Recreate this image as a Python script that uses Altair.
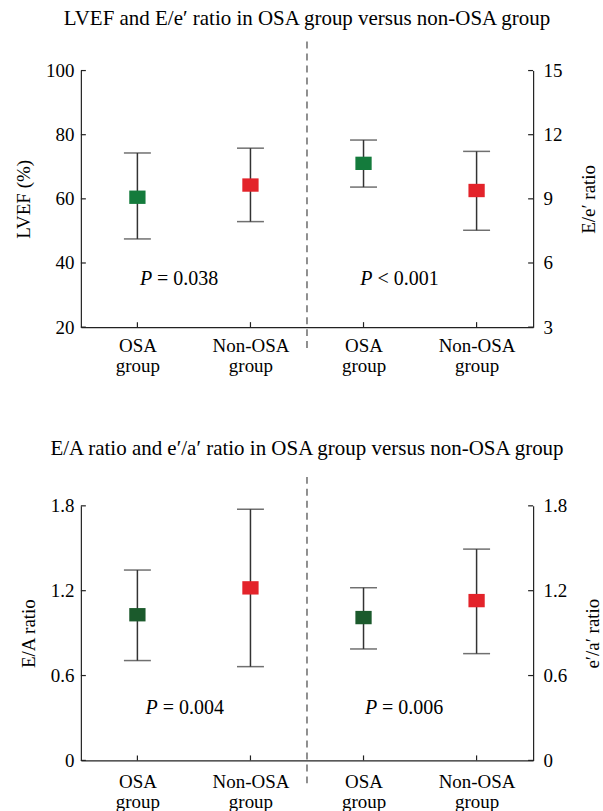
import altair as alt
import pandas as pd

FONT = "Liberation Serif"

# ---------------- data ----------------
group_lines = [["OSA", "group"], ["Non-OSA", "group"]]

# top panel: LVEF (%) left, E/e' ratio right
lvef_mean = [60.5, 64.3]
lvef_low = [47.5, 52.9]
lvef_high = [74.3, 75.8]
ee_mean = [10.66, 9.39]
ee_low = [9.55, 7.53]
ee_high = [11.75, 11.22]

# bottom panel: E/A ratio left, e'/a' ratio right
ea_mean = [1.03, 1.22]
ea_low = [0.706, 0.663]
ea_high = [1.346, 1.776]
ea2_mean = [1.01, 1.13]
ea2_low = [0.788, 0.755]
ea2_high = [1.221, 1.494]

lvef_ticks = [20, 40, 60, 80, 100]
ee_ticks = [3, 6, 9, 12, 15]
ea_ticks = [0, 0.6, 1.2, 1.8]

p_top_text = ["= 0.038", "< 0.001"]
p_top_x = [0.63, 2.58]
p_top_y = [34.9, 34.9]
p_bot_text = ["= 0.004", "= 0.006"]
p_bot_x = [0.68, 2.62]
p_bot_y = [0.372, 0.372]

separator_x = [2.0]

top_colors = ["#147b3c", "#e3232a"]
bot_colors = ["#1b5a2c", "#e3232a"]

# ---------------- helpers ----------------
W = 453
SHAPE = "M-1,-0.82L1,-0.82L1,0.82L-1,0.82Z"
INK = "#222222"
BAR = "#333333"
FS = 19

slot_labels = group_lines + group_lines
label_expr = "[" + ",".join(
    "[" + ",".join("'" + s + "'" for s in lines) + "]" for lines in slot_labels
) + "][floor(datum.value)]"

xscale = alt.Scale(domain=[0, 4], nice=False, zero=False)


def xaxis(pad):
    return alt.Axis(
        values=[i + 0.5 for i in range(4)], labelExpr=label_expr, title=None,
        ticks=False, grid=False, labelFont=FONT, labelFontSize=FS, labelColor="black",
        labelLineHeight=20, labelPadding=pad, domainColor=INK, domainWidth=1.2,
        labelAngle=0, labelBaseline="top",
    )


def yaxis(orient, values, title):
    kw = dict(
        orient=orient, values=values, title=title, ticks=False, grid=False,
        labelFont=FONT, labelFontSize=FS, labelColor="black",
        titleFont=FONT, titleFontSize=FS, titleFontWeight="normal", titleColor="black",
        titleAngle=270, domainColor=INK, domainWidth=1.2, format="~r",
    )
    if orient == "left":
        kw.update(labelPadding=7, titlePadding=12)
    else:
        kw.update(labelPadding=10, titlePadding=17, titleBaseline="top")
    return alt.Axis(**kw)


def half(means, lows, highs, slot0, colors, ydom, yticks, ytitle, orient, H, X):
    df = pd.DataFrame({
        "x": [slot0 + i + 0.5 for i in range(len(means))],
        "mean": means, "low": lows, "high": highs, "color": colors,
    })
    ys = alt.Scale(domain=ydom, nice=False, zero=False)
    ax = yaxis(orient, yticks, ytitle)
    base = alt.Chart(df)
    rule = base.mark_rule(color=BAR, strokeWidth=1.5).encode(
        x=X, y=alt.Y("low:Q", scale=ys, axis=ax), y2="high:Q")
    cap_hi = base.mark_tick(color=BAR, thickness=1.5, size=27, orient="horizontal").encode(
        x=X, y=alt.Y("high:Q", scale=ys, axis=ax))
    cap_lo = base.mark_tick(color=BAR, thickness=1.5, size=27, orient="horizontal").encode(
        x=X, y=alt.Y("low:Q", scale=ys, axis=ax))
    pts = base.mark_point(shape=SHAPE, filled=True, size=266, opacity=1).encode(
        x=X, y=alt.Y("mean:Q", scale=ys, axis=ax),
        color=alt.Color("color:N", scale=None))
    tdf = pd.DataFrame({"v": yticks})
    if orient == "left":
        tx, tx2 = alt.value(0), alt.value(5)
    else:
        tx, tx2 = alt.value(W - 5), alt.value(W)
    ticks = alt.Chart(tdf).mark_rule(color=INK, strokeWidth=1.2).encode(
        x=tx, x2=tx2, y=alt.Y("v:Q", scale=ys, axis=ax))
    return [rule, cap_hi, cap_lo, pts, ticks], ys, ax


def panel(L, R, Lcol, Rcol, Ldom, Lticks, Ltitle, Rdom, Rticks, Rtitle,
          p_x, p_y, p_text, H, title, toff, lpad):
    X = alt.X("x:Q", scale=xscale, axis=xaxis(lpad))
    left_layers, ys, ax = half(*L, 0, Lcol, Ldom, Lticks, Ltitle, "left", H, X)
    right_layers, _, _ = half(*R, 2, Rcol, Rdom, Rticks, Rtitle, "right", H, X)
    # inward x ticks
    xt = pd.DataFrame({"x": [i + 0.5 for i in range(4)]})
    xticks = alt.Chart(xt).mark_rule(color=INK, strokeWidth=1.2).encode(
        x=X, y=alt.value(H - 5), y2=alt.value(H))
    sep = alt.Chart(pd.DataFrame({"x": separator_x})).mark_rule(
        color="#555555", strokeWidth=1.3, strokeDash=[7, 5]).encode(
        x=X, y=alt.value(-29), y2=alt.value(H + 25))
    pdf = pd.DataFrame({"x": p_x, "y": p_y, "rest": p_text})
    pbase = alt.Chart(pdf)
    Yp = alt.Y("y:Q", scale=ys, axis=ax)
    p1 = pbase.mark_text(text="P", font=FONT, fontSize=20, fontStyle="italic",
                         align="right", baseline="middle", color="black").encode(x=X, y=Yp)
    p2 = pbase.mark_text(font=FONT, fontSize=20, align="left", baseline="middle",
                         dx=5, color="black").encode(x=X, y=Yp, text="rest:N")
    left = alt.layer(*left_layers, xticks, p1, p2, sep)
    right = alt.layer(*right_layers)
    return alt.layer(left, right).resolve_scale(y="independent").properties(
        width=W, height=H,
        title=alt.TitleParams(title, font=FONT, fontSize=21, fontWeight="normal",
                              color="black", anchor="middle", offset=toff),
    )


top = panel((lvef_mean, lvef_low, lvef_high), (ee_mean, ee_low, ee_high),
            top_colors, top_colors, [20, 100], lvef_ticks, "LVEF (%)",
            [3, 15], ee_ticks, "E/e\u2032 ratio",
            p_top_x, p_top_y, p_top_text, 257,
            "LVEF and E/e\u2032 ratio in OSA group versus non-OSA group", 12, 9)

bottom = panel((ea_mean, ea_low, ea_high), (ea2_mean, ea2_low, ea2_high),
               bot_colors, bot_colors, [0, 1.8], ea_ticks, "E/A ratio",
               [0, 1.8], ea_ticks, "e\u2032/a\u2032 ratio",
               p_bot_x, p_bot_y, p_bot_text, 255,
               "E/A ratio and e\u2032/a\u2032 ratio in OSA group versus non-OSA group", 17, 12)

chart = alt.vconcat(top, bottom, spacing=63).properties(
    padding={"left": 14, "top": 7, "right": 0, "bottom": 0},
    background="white",
).configure_view(stroke=None)

chart.save("out.html", embed_options={"renderer": "svg", "actions": False})
